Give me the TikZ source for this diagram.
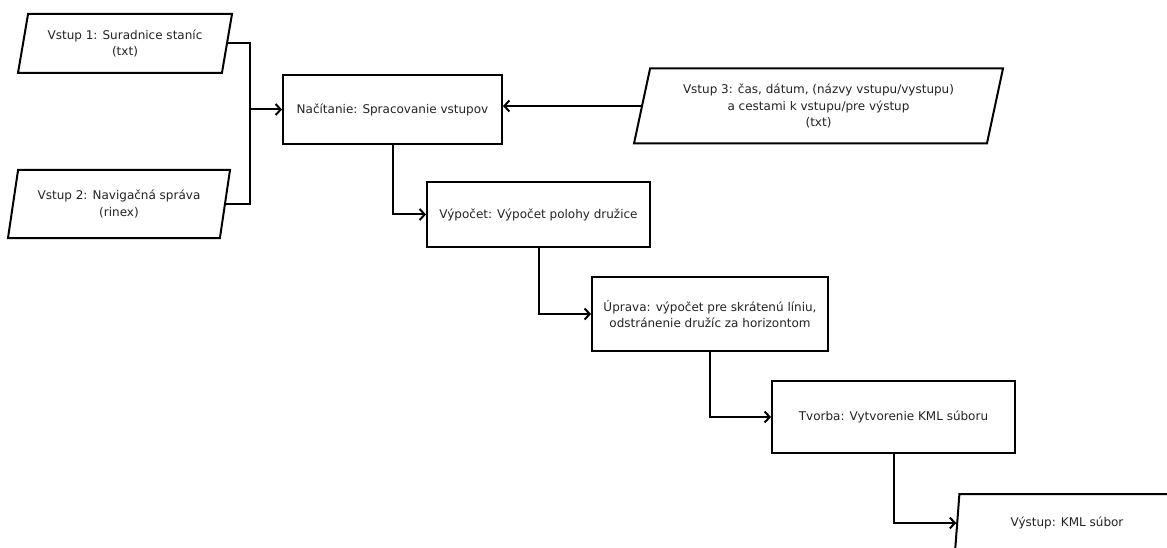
\documentclass[tikz,border=0pt]{standalone}
\usepackage{fontspec}
\setmainfont{DejaVu Sans}
\usetikzlibrary{shapes.geometric,arrows.meta,calc}
\definecolor{txt}{HTML}{222222}
\tikzset{
  base/.style={draw=black, line width=2pt, text=txt, align=center, inner sep=0pt,
    font=\fontsize{12pt}{16.5pt}\selectfont},
  procbox/.style={base, rectangle},
  iobox/.style={base, trapezium, trapezium left angle=70, trapezium right angle=110,
    trapezium stretches body},
  conn/.style={line width=2pt},
  arr/.style={conn, -{Straight Barb[length=5pt,width=11pt]}}
}
\begin{document}
\begin{tikzpicture}[x=1pt,y=-1pt]
\useasboundingbox (0,0) rectangle (1167,548);
\clip (0,0) rectangle (1167,548);
% inputs
\node[iobox, minimum width=214pt, minimum height=59pt] (in1) at (125,43.5) {Vstup 1: Suradnice staníc\\(txt)};
\node[iobox, minimum width=222pt, minimum height=68pt] (in2) at (119,204) {Vstup 2: Navigačná správa\\(rinex)};
\node[iobox, minimum width=369pt, minimum height=75pt] (in3) at (818.5,106) {Vstup 3: čas, dátum, (názvy vstupu/vystupu)\\a cestami k vstupu/pre výstup\\(txt)};
% processes
\node[procbox, minimum width=219pt, minimum height=69pt] (nac) at (392.5,109.5) {Načítanie: Spracovanie vstupov};
\node[procbox, minimum width=223pt, minimum height=65pt] (vyp) at (538.5,214.5) {Výpočet: Výpočet polohy družice};
\node[procbox, minimum width=236pt, minimum height=74pt] (upr) at (710,314) {Úprava: výpočet pre skrátenú líniu,\\odstránenie družíc za horizontom};
\node[procbox, minimum width=243pt, minimum height=72pt] (tvo) at (893.5,417) {Tvorba: Vytvorenie KML súboru};
% output
\node[iobox, minimum width=224pt, minimum height=58pt] (out) at (1067,523) {Výstup: KML súbor};
% connectors
\coordinate (j) at (250,109.5);
\draw[conn] (in1.east) -| (j);
\draw[conn] (in2.east) -| (j);
\draw[arr] (j) -- (nac.west);
\draw[arr] (in3.west) -- (in3.west -| nac.east);
\draw[arr] (nac.south) |- (vyp.west);
\draw[arr] (vyp.south) |- (upr.west);
\draw[arr] (upr.south) |- (tvo.west);
\draw[arr] (tvo.south) |- (out.west);
\end{tikzpicture}
\end{document}
